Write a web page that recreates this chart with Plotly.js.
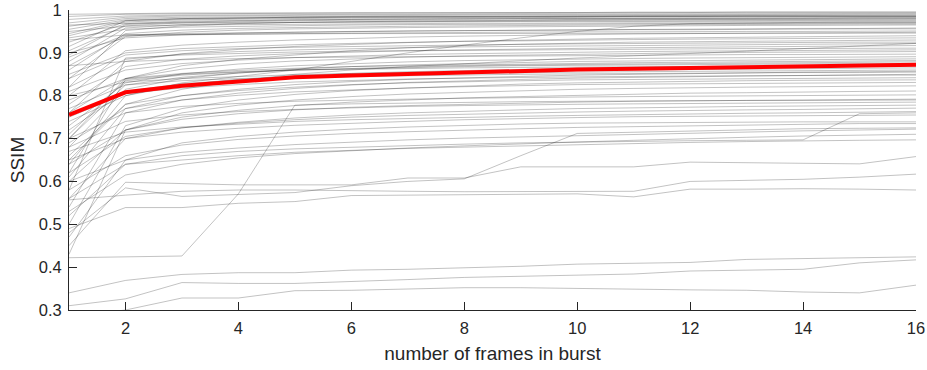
<!DOCTYPE html>
<html>
<head>
<meta charset="utf-8">
<script src="https://cdn.plot.ly/plotly-3.0.1.min.js"></script>
<style>html,body{margin:0;padding:0;background:#fff;}#chart{width:927px;height:370px;}</style>
</head>
<body>
<div id="chart"></div>
<script>
// x values: number of frames in burst
const frames = [1,2,3,4,5,6,7,8,9,10,11,12,13,14,15,16];

// mean SSIM over all scenes (red curve)
const meanSSIM = [0.755,0.808,0.823,0.834,0.843,0.847,0.851,0.855,0.858,0.861,0.863,0.865,0.867,0.869,0.871,0.872];

// per-scene SSIM curves (grey lines)
const sceneSSIM = [
  [0.985,0.990,0.991,0.992,0.992,0.993,0.993,0.993,0.994,0.994,0.994,0.994,0.995,0.995,0.995,0.995],
  [0.978,0.986,0.988,0.989,0.990,0.990,0.990,0.991,0.991,0.991,0.991,0.992,0.992,0.992,0.992,0.992],
  [0.970,0.983,0.986,0.987,0.988,0.988,0.988,0.989,0.989,0.989,0.989,0.990,0.990,0.990,0.990,0.990],
  [0.962,0.980,0.983,0.984,0.985,0.986,0.986,0.986,0.987,0.987,0.987,0.987,0.988,0.988,0.988,0.988],
  [0.955,0.977,0.980,0.982,0.983,0.984,0.984,0.984,0.985,0.985,0.985,0.985,0.986,0.986,0.986,0.986],
  [0.940,0.972,0.977,0.979,0.980,0.981,0.981,0.982,0.982,0.983,0.983,0.983,0.983,0.984,0.984,0.984],
  [0.925,0.968,0.974,0.976,0.977,0.978,0.979,0.979,0.980,0.980,0.980,0.981,0.981,0.981,0.981,0.981],
  [0.905,0.963,0.970,0.973,0.975,0.976,0.976,0.977,0.977,0.978,0.978,0.978,0.978,0.979,0.979,0.979],
  [0.880,0.958,0.966,0.969,0.971,0.972,0.973,0.974,0.974,0.975,0.975,0.975,0.976,0.976,0.976,0.976],
  [0.965,0.969,0.970,0.971,0.971,0.972,0.972,0.973,0.973,0.973,0.973,0.974,0.974,0.974,0.974,0.974],
  [0.950,0.962,0.965,0.966,0.967,0.968,0.968,0.969,0.969,0.970,0.970,0.970,0.970,0.971,0.971,0.971],
  [0.935,0.955,0.960,0.962,0.964,0.965,0.966,0.966,0.967,0.967,0.968,0.968,0.968,0.969,0.969,0.969],
  [0.860,0.945,0.953,0.957,0.959,0.961,0.962,0.963,0.964,0.965,0.965,0.966,0.966,0.967,0.967,0.967],
  [0.840,0.938,0.948,0.953,0.956,0.958,0.959,0.960,0.961,0.962,0.963,0.963,0.964,0.964,0.965,0.965],
  [0.990,0.992,0.993,0.993,0.993,0.994,0.994,0.994,0.994,0.994,0.995,0.995,0.995,0.995,0.995,0.995],
  [0.915,0.975,0.980,0.982,0.983,0.984,0.984,0.985,0.985,0.985,0.986,0.986,0.986,0.986,0.986,0.986],
  [0.820,0.952,0.963,0.968,0.971,0.973,0.974,0.975,0.976,0.977,0.977,0.978,0.978,0.978,0.979,0.979],
  [0.945,0.975,0.979,0.981,0.982,0.983,0.983,0.984,0.984,0.984,0.985,0.985,0.985,0.985,0.985,0.985],
  [0.895,0.966,0.972,0.975,0.977,0.978,0.979,0.979,0.980,0.980,0.980,0.981,0.981,0.981,0.982,0.982],
  [0.900,0.935,0.942,0.946,0.948,0.950,0.951,0.952,0.953,0.954,0.955,0.955,0.956,0.957,0.957,0.958],
  [0.930,0.942,0.945,0.947,0.949,0.950,0.951,0.952,0.953,0.953,0.954,0.954,0.955,0.955,0.956,0.956],
  [0.870,0.940,0.942,0.944,0.945,0.946,0.947,0.948,0.948,0.949,0.949,0.950,0.950,0.950,0.951,0.951],
  [0.800,0.905,0.918,0.925,0.930,0.934,0.937,0.939,0.941,0.943,0.944,0.945,0.946,0.947,0.947,0.948],
  [0.890,0.942,0.943,0.944,0.944,0.945,0.945,0.945,0.946,0.946,0.946,0.946,0.946,0.946,0.946,0.946],
  [0.760,0.880,0.898,0.908,0.915,0.920,0.924,0.927,0.930,0.932,0.934,0.935,0.937,0.938,0.939,0.940],
  [0.850,0.900,0.910,0.915,0.919,0.922,0.925,0.927,0.928,0.930,0.931,0.932,0.933,0.934,0.935,0.935],
  [0.700,0.840,0.870,0.885,0.895,0.905,0.912,0.917,0.920,0.923,0.925,0.926,0.927,0.928,0.929,0.930],
  [0.740,0.800,0.830,0.845,0.860,0.880,0.900,0.918,0.935,0.950,0.962,0.968,0.970,0.971,0.972,0.972],
  [0.650,0.780,0.815,0.835,0.850,0.860,0.868,0.875,0.882,0.888,0.893,0.898,0.904,0.910,0.916,0.922],
  [0.840,0.895,0.905,0.910,0.913,0.915,0.917,0.919,0.920,0.921,0.922,0.923,0.924,0.924,0.925,0.925],
  [0.820,0.885,0.897,0.903,0.907,0.910,0.912,0.914,0.915,0.916,0.917,0.918,0.919,0.920,0.921,0.922],
  [0.780,0.868,0.885,0.893,0.898,0.902,0.905,0.907,0.909,0.911,0.912,0.913,0.914,0.915,0.916,0.917],
  [0.580,0.888,0.895,0.899,0.902,0.904,0.905,0.906,0.907,0.908,0.909,0.909,0.910,0.910,0.911,0.911],
  [0.810,0.860,0.875,0.883,0.889,0.893,0.896,0.898,0.900,0.902,0.903,0.904,0.905,0.906,0.906,0.907],
  [0.760,0.840,0.862,0.874,0.881,0.886,0.890,0.893,0.895,0.897,0.899,0.900,0.901,0.902,0.902,0.903],
  [0.870,0.880,0.884,0.887,0.889,0.890,0.891,0.892,0.893,0.894,0.895,0.895,0.896,0.896,0.897,0.897],
  [0.730,0.830,0.851,0.862,0.870,0.875,0.879,0.882,0.884,0.886,0.887,0.888,0.889,0.890,0.890,0.891],
  [0.680,0.815,0.840,0.853,0.862,0.868,0.872,0.875,0.878,0.880,0.881,0.882,0.883,0.884,0.885,0.886],
  [0.790,0.840,0.852,0.859,0.864,0.868,0.870,0.872,0.874,0.876,0.877,0.878,0.879,0.880,0.881,0.882],
  [0.700,0.825,0.843,0.853,0.860,0.864,0.867,0.870,0.872,0.873,0.874,0.875,0.876,0.877,0.878,0.879],
  [0.640,0.800,0.825,0.838,0.846,0.852,0.856,0.859,0.862,0.864,0.865,0.866,0.867,0.868,0.869,0.870],
  [0.800,0.832,0.840,0.845,0.849,0.852,0.854,0.856,0.858,0.859,0.860,0.861,0.862,0.863,0.864,0.865],
  [0.720,0.810,0.828,0.837,0.843,0.847,0.850,0.852,0.854,0.855,0.856,0.857,0.858,0.859,0.859,0.860],
  [0.610,0.770,0.800,0.815,0.826,0.833,0.838,0.842,0.845,0.848,0.850,0.852,0.853,0.855,0.856,0.857],
  [0.770,0.825,0.835,0.840,0.843,0.845,0.847,0.849,0.850,0.851,0.852,0.853,0.853,0.854,0.854,0.855],
  [0.540,0.760,0.790,0.806,0.817,0.825,0.831,0.835,0.838,0.841,0.843,0.845,0.846,0.847,0.849,0.850],
  [0.750,0.805,0.818,0.826,0.832,0.836,0.839,0.841,0.843,0.844,0.845,0.846,0.847,0.847,0.848,0.848],
  [0.660,0.780,0.800,0.812,0.820,0.826,0.830,0.833,0.835,0.837,0.838,0.839,0.840,0.841,0.842,0.842],
  [0.500,0.730,0.770,0.790,0.803,0.812,0.818,0.823,0.827,0.830,0.832,0.834,0.835,0.836,0.837,0.837],
  [0.690,0.770,0.790,0.801,0.809,0.814,0.818,0.821,0.824,0.826,0.827,0.828,0.829,0.830,0.831,0.831],
  [0.430,0.720,0.760,0.778,0.790,0.798,0.804,0.808,0.812,0.815,0.817,0.819,0.820,0.821,0.822,0.823],
  [0.710,0.835,0.848,0.855,0.860,0.863,0.866,0.868,0.870,0.871,0.872,0.873,0.874,0.874,0.875,0.875],
  [0.620,0.838,0.850,0.856,0.860,0.862,0.864,0.865,0.866,0.867,0.868,0.868,0.869,0.869,0.870,0.870],
  [0.640,0.720,0.750,0.766,0.777,0.785,0.790,0.795,0.798,0.801,0.804,0.806,0.807,0.809,0.810,0.811],
  [0.700,0.760,0.775,0.782,0.787,0.790,0.792,0.794,0.796,0.797,0.798,0.799,0.800,0.801,0.801,0.802],
  [0.600,0.720,0.745,0.758,0.767,0.773,0.777,0.780,0.783,0.785,0.787,0.788,0.789,0.790,0.791,0.792],
  [0.422,0.424,0.426,0.571,0.778,0.781,0.783,0.785,0.786,0.787,0.788,0.788,0.789,0.789,0.790,0.790],
  [0.680,0.740,0.755,0.763,0.768,0.772,0.775,0.777,0.779,0.780,0.781,0.782,0.783,0.784,0.785,0.785],
  [0.560,0.700,0.725,0.738,0.748,0.755,0.760,0.764,0.767,0.770,0.772,0.774,0.775,0.776,0.777,0.778],
  [0.620,0.705,0.725,0.736,0.744,0.750,0.754,0.757,0.760,0.762,0.764,0.766,0.767,0.768,0.770,0.771],
  [0.670,0.715,0.727,0.734,0.740,0.744,0.747,0.750,0.752,0.754,0.756,0.758,0.759,0.760,0.762,0.763],
  [0.520,0.640,0.660,0.670,0.676,0.680,0.684,0.687,0.690,0.692,0.694,0.695,0.696,0.697,0.758,0.760],
  [0.650,0.700,0.715,0.724,0.731,0.736,0.740,0.744,0.747,0.749,0.751,0.752,0.753,0.754,0.755,0.755],
  [0.480,0.585,0.565,0.570,0.574,0.590,0.600,0.606,0.660,0.712,0.715,0.718,0.721,0.723,0.724,0.725],
  [0.470,0.650,0.690,0.705,0.715,0.722,0.727,0.731,0.734,0.736,0.737,0.738,0.739,0.739,0.739,0.739],
  [0.580,0.660,0.685,0.698,0.706,0.712,0.716,0.720,0.723,0.726,0.728,0.730,0.732,0.734,0.735,0.735],
  [0.600,0.650,0.668,0.678,0.686,0.692,0.697,0.701,0.704,0.707,0.710,0.713,0.715,0.718,0.720,0.722],
  [0.530,0.615,0.640,0.655,0.665,0.672,0.678,0.683,0.688,0.692,0.696,0.700,0.703,0.706,0.708,0.710],
  [0.560,0.640,0.650,0.660,0.668,0.673,0.677,0.680,0.683,0.686,0.689,0.691,0.693,0.695,0.696,0.697],
  [0.450,0.598,0.595,0.592,0.592,0.592,0.608,0.608,0.634,0.634,0.634,0.645,0.644,0.642,0.641,0.658],
  [0.557,0.568,0.577,0.580,0.580,0.578,0.577,0.576,0.576,0.576,0.577,0.600,0.603,0.605,0.610,0.617],
  [0.490,0.539,0.539,0.549,0.553,0.567,0.568,0.569,0.570,0.571,0.564,0.582,0.582,0.583,0.582,0.580],
  [0.340,0.369,0.383,0.387,0.387,0.393,0.395,0.398,0.402,0.407,0.409,0.411,0.418,0.420,0.421,0.424],
  [0.310,0.326,0.364,0.362,0.362,0.366,0.371,0.376,0.379,0.381,0.384,0.391,0.393,0.395,0.410,0.417],
  [0.285,0.300,0.328,0.328,0.345,0.346,0.349,0.352,0.352,0.350,0.349,0.347,0.346,0.342,0.340,0.358]
];

// axis tick labels
const xTickVals = [2,4,6,8,10,12,14,16];
const yTickVals = [0.3,0.4,0.5,0.6,0.7,0.8,0.9,1];
const yTickText = ['0.3','0.4','0.5','0.6','0.7','0.8','0.9','1'];

const axisColor = '#262626';
const fontFam = '"Liberation Sans", Arial, Helvetica, sans-serif';

const traces = sceneSSIM.map(v => ({
  x: frames, y: v, type: 'scatter', mode: 'lines',
  line: {color: 'rgba(0,0,0,0.24)', width: 1},
  hoverinfo: 'skip', showlegend: false
}));
traces.push({
  x: frames, y: meanSSIM, type: 'scatter', mode: 'lines',
  line: {color: '#ff0000', width: 4}, showlegend: false
});

const layout = {
  width: 927, height: 370,
  margin: {l: 69, r: 11, t: 10, b: 60},
  paper_bgcolor: '#fff', plot_bgcolor: '#fff',
  font: {family: fontFam, color: axisColor},
  showlegend: false,
  xaxis: {
    range: [1, 16], tickmode: 'array', tickvals: xTickVals,
    ticks: 'inside', ticklen: 8, tickcolor: axisColor, tickwidth: 1,
    showline: true, linecolor: axisColor, linewidth: 1,
    showgrid: false, zeroline: false, ticklabelstandoff: 3,
    tickfont: {size: 16.5, color: axisColor, family: fontFam},
    title: {text: 'number of frames in burst', font: {size: 19, color: axisColor, family: fontFam}, standoff: 10}
  },
  yaxis: {
    range: [0.3, 1], tickmode: 'array', tickvals: yTickVals, ticktext: yTickText,
    ticks: 'inside', ticklen: 8, tickcolor: axisColor, tickwidth: 1,
    showline: true, linecolor: axisColor, linewidth: 1,
    showgrid: false, zeroline: false, ticklabelstandoff: 3,
    tickfont: {size: 16.5, color: axisColor, family: fontFam},
    title: {text: 'SSIM', font: {size: 19, color: axisColor, family: fontFam}, standoff: 9}
  }
};

Plotly.newPlot('chart', traces, layout, {staticPlot: true, displayModeBar: false});
</script>
</body>
</html>
